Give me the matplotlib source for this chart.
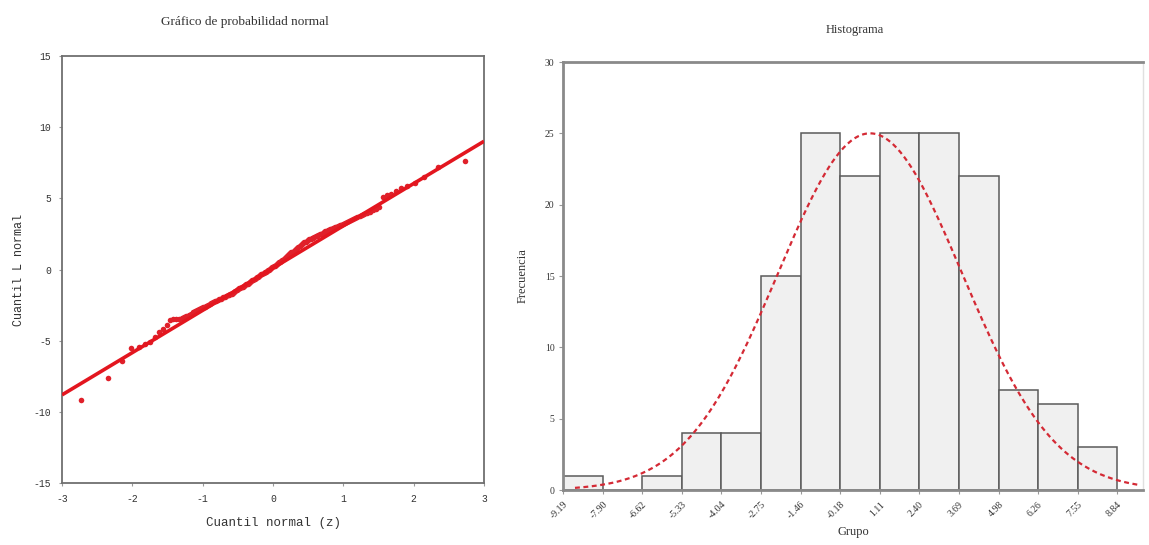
import numpy as np
import matplotlib
matplotlib.use("Agg")
import matplotlib.pyplot as plt
from statistics import NormalDist

plt.rcParams["axes.unicode_minus"] = False

# ---------------- data ----------------
# sorted sample values (normal probability plot)
qq_values = [
    -9.15, -7.60, -6.40, -5.54, -5.42, -5.21, -5.08, -4.73, -4.40, -4.18,
    -3.93, -3.54, -3.51, -3.49, -3.45, -3.41, -3.35, -3.27, -3.19, -3.11,
    -3.02, -2.94, -2.88, -2.80, -2.74, -2.66, -2.60, -2.53, -2.47, -2.41,
    -2.35, -2.29, -2.24, -2.18, -2.14, -2.09, -2.05, -2.01, -1.96, -1.91,
    -1.88, -1.82, -1.78, -1.74, -1.70, -1.65, -1.60, -1.54, -1.46, -1.38,
    -1.33, -1.28, -1.24, -1.20, -1.16, -1.11, -1.05, -0.99, -0.92, -0.87,
    -0.82, -0.77, -0.71, -0.66, -0.61, -0.55, -0.50, -0.46, -0.40, -0.35,
    -0.30, -0.25, -0.20, -0.15, -0.10, -0.05, 0.00, 0.05, 0.10, 0.16,
    0.22, 0.28, 0.34, 0.39, 0.45, 0.51, 0.56, 0.62, 0.68, 0.73,
    0.79, 0.86, 0.93, 0.99, 1.06, 1.13, 1.20, 1.26, 1.33, 1.40,
    1.47, 1.54, 1.61, 1.67, 1.73, 1.79, 1.85, 1.90, 1.96, 2.01,
    2.06, 2.11, 2.16, 2.20, 2.24, 2.29, 2.33, 2.38, 2.43, 2.48,
    2.52, 2.57, 2.62, 2.67, 2.73, 2.78, 2.82, 2.87, 2.91, 2.96,
    3.01, 3.06, 3.11, 3.16, 3.22, 3.28, 3.34, 3.40, 3.46, 3.53,
    3.60, 3.68, 3.75, 3.83, 3.91, 3.99, 4.07, 4.17, 4.28, 4.38,
    5.08, 5.20, 5.33, 5.53, 5.71, 5.87, 6.09, 6.50, 7.18, 7.62,
]
qq_line_intercept = 0.1
qq_line_slope = 2.97

# histogram
bin_edges = [-9.19, -7.90, -6.62, -5.33, -4.04, -2.75, -1.46, -0.18,
             1.11, 2.40, 3.69, 4.98, 6.26, 7.55, 8.84]
bin_labels = ["-9.19", "-7.90", "-6.62", "-5.33", "-4.04", "-2.75", "-1.46",
              "-0.18", "1.11", "2.40", "3.69", "4.98", "6.26", "7.55", "8.84"]
counts = [1, 0, 1, 4, 4, 15, 25, 22, 25, 25, 22, 7, 6, 3]
curve_mean = 0.8
curve_sd = 3.0
curve_peak = 25.0
curve_range = (-8.8, 9.6)

# ---------------- figure ----------------
fig = plt.figure(figsize=(11.49, 5.45), dpi=100)
fig.patch.set_facecolor("white")

mono = "Liberation Mono"
serif = "Liberation Serif"

# ---- Normal probability plot ----
ax1 = fig.add_axes([62/1149, (545-483)/545, 422/1149, 427/545])
n = len(qq_values)
nd = NormalDist()
theo = [nd.inv_cdf((i + 0.5) / n) for i in range(n)]
ax1.scatter(theo, qq_values, s=16, color="#e0202a", zorder=3, linewidths=0)
xl = np.array([-3, 3])
ax1.plot(xl, qq_line_intercept + qq_line_slope * xl, color="#e3161f", lw=2.6,
         zorder=4, solid_capstyle="butt")
ax1.set_xlim(-3, 3)
ax1.set_ylim(-15, 15)
ax1.set_xticks([-3, -2, -1, 0, 1, 2, 3])
ax1.set_yticks([-15, -10, -5, 0, 5, 10, 15])
for s in ax1.spines.values():
    s.set_color("#707070")
    s.set_linewidth(1.3)
ax1.tick_params(length=2, width=0.8, color="#999999", labelsize=7,
                labelcolor="#333333", pad=6)
for lab in ax1.get_xticklabels() + ax1.get_yticklabels():
    lab.set_family(mono)
ax1.set_xlabel("Cuantil normal (z)", family=mono, fontsize=9, color="#333333",
               labelpad=9)
ax1.set_ylabel("Cuantil L normal", family=mono, fontsize=8.5, color="#333333",
               labelpad=6)
fig.text(245/1149, 1 - 22/545, "Gráfico de probabilidad normal", family=serif,
         fontsize=9.5, ha="center", va="center", color="#333333")

# ---- Histogram ----
ax2 = fig.add_axes([563/1149, (545-490)/545, (1143-563)/1149, (490-62)/545])
edges = np.array(bin_edges)
widths = np.diff(edges)
ax2.bar(edges[:-1], counts, width=widths, align="edge", color="#f0f0f0",
        edgecolor="#5a5a5a", linewidth=1.1, zorder=2)
xc = np.linspace(curve_range[0], curve_range[1], 300)
yc = curve_peak * np.exp(-0.5 * ((xc - curve_mean) / curve_sd) ** 2)
ax2.plot(xc, yc, color="#d42a35", lw=1.6, ls=(0, (2.2, 1.6)), zorder=3)
ax2.set_xlim(bin_edges[0], 9.68)
ax2.set_ylim(0, 30)
ax2.set_yticks([0, 5, 10, 15, 20, 25, 30])
ax2.set_xticks(bin_edges)
ax2.set_xticklabels(bin_labels, rotation=45, ha="right", rotation_mode="anchor",
                    family=serif, fontsize=7, color="#333333")
for lab in ax2.get_yticklabels():
    lab.set_family(serif)
ax2.tick_params(axis="y", length=3, width=0.8, color="#999999", labelsize=7,
                labelcolor="#333333", pad=3)
ax2.tick_params(axis="x", length=3, width=0.8, color="#999999", pad=4)
for name in ["left", "bottom", "top"]:
    ax2.spines[name].set_color("#8a8a8a")
    ax2.spines[name].set_linewidth(2.0)
ax2.spines["right"].set_color("#e0e0e0")
ax2.spines["right"].set_linewidth(1.0)
ax2.set_xlabel("Grupo", family=serif, fontsize=9, color="#333333", labelpad=4)
ax2.set_ylabel("Frecuencia", family=serif, fontsize=9, color="#333333",
               labelpad=12)
fig.text(855/1149, 1 - 30/545, "Histograma", family=serif, fontsize=9,
         ha="center", va="center", color="#333333")

fig.savefig("out.png", dpi=100, facecolor="white")
